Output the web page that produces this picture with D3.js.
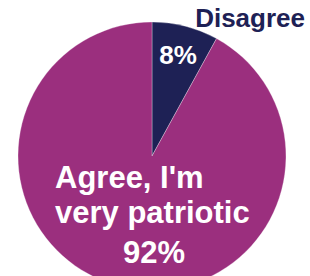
<!DOCTYPE html>
<html>
<head>
<meta charset="utf-8">
<script src="https://cdn.jsdelivr.net/npm/d3@7"></script>
<style>
  body { margin: 0; background: #fff; }
  text { font-family: "Liberation Sans", Arial, sans-serif; font-weight: bold; }
</style>
</head>
<body>
<svg width="310" height="276"></svg>
<script>
// answers, clockwise from 12 o'clock
var categories = ["Disagree", "Agree, I'm very patriotic"];
var values = [8, 92];
var valueLabels = ["8%", "92%"];
var colors = ["#1e2155", "#9b2f7e"];

var svg = d3.select("svg"),
    cx = 152, cy = 156, radius = 134,
    g = svg.append("g").attr("transform", "translate(" + cx + "," + cy + ")");

var pie = d3.pie().sort(null).value(function(d) { return d; });
var arc = d3.arc().innerRadius(0).outerRadius(radius);

var arcs = pie(values);

g.selectAll(".slice")
    .data(arcs)
  .enter().append("path")
    .attr("class", "slice")
    .attr("d", arc)
    .attr("fill", function(d, i) { return colors[i]; })
    .attr("stroke", "#fff")
    .attr("stroke-opacity", 0.5)
    .attr("stroke-width", 0.6);

// small slice: category outside top right, value inside
var small = arcs[0];
var labelArc = d3.arc().innerRadius(radius * 0.78).outerRadius(radius * 0.78);
var inner = labelArc.centroid(small);

svg.append("text")
    .attr("x", 305).attr("y", 27)
    .attr("text-anchor", "end")
    .attr("fill", colors[0])
    .style("font-size", "26px")
    .text(categories[0]);

g.append("text")
    .attr("x", inner[0]).attr("y", inner[1])
    .attr("dy", "0.35em")
    .attr("text-anchor", "middle")
    .attr("fill", "#fff")
    .style("font-size", "26px")
    .text(valueLabels[0]);

// big slice label block
var big = svg.append("g").attr("fill", "#fff").style("font-size", "31px");
big.append("text").attr("x", 55).attr("y", 188).text("Agree, I'm");
big.append("text").attr("x", 55).attr("y", 223).text("very patriotic");
big.append("text").attr("x", 154).attr("y", 263).attr("text-anchor", "middle").text(valueLabels[1]);
</script>
</body>
</html>
